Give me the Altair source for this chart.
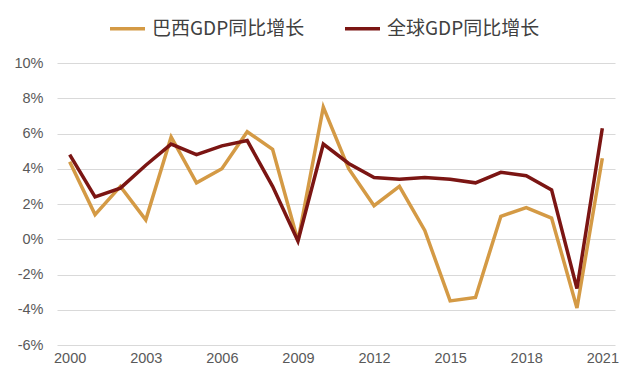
import altair as alt
import pandas as pd

years = list(range(2000, 2022))
brazil = [4.4, 1.4, 3.0, 1.1, 5.8, 3.2, 4.0, 6.1, 5.1, -0.1, 7.5, 4.0, 1.9, 3.0, 0.5, -3.5, -3.3, 1.3, 1.8, 1.2, -3.9, 4.6]
world = [4.8, 2.4, 2.9, 4.2, 5.4, 4.8, 5.3, 5.6, 3.0, -0.1, 5.4, 4.3, 3.5, 3.4, 3.5, 3.4, 3.2, 3.8, 3.6, 2.8, -2.8, 6.3]
series_names = ["巴西GDP同比增长", "全球GDP同比增长"]
series_colors = ["#D49A45", "#7B1513"]
x_ticks = [2000, 2003, 2006, 2009, 2012, 2015, 2018, 2021]

rows = []
for y, b, w in zip(years, brazil, world):
    rows.append({"year": y, "series": series_names[0], "value": b})
    rows.append({"year": y, "series": series_names[1], "value": w})
df = pd.DataFrame(rows)

chart = alt.Chart(df).mark_line(strokeWidth=3.5).encode(
    x=alt.X("year:O", title=None,
            axis=alt.Axis(values=x_ticks, labelAngle=0, ticks=False, domain=False, grid=False,
                          labelFontSize=14.5, labelColor="#595959", labelPadding=6,
                          labelFont="Liberation Sans")),
    y=alt.Y("value:Q", title=None,
            scale=alt.Scale(domain=[-6, 10], nice=False),
            axis=alt.Axis(values=[-6, -4, -2, 0, 2, 4, 6, 8, 10], labelExpr="datum.value + '%'",
                          ticks=False, domain=False, gridColor="#D9D9D9", gridWidth=1,
                          labelFontSize=14.5, labelColor="#595959", labelPadding=14,
                          labelFont="Liberation Sans")),
    color=alt.Color("series:N", sort=series_names,
                    scale=alt.Scale(domain=series_names, range=series_colors),
                    legend=alt.Legend(title=None, orient="none", direction="horizontal",
                                      legendX=51, legendY=-54,
                                      symbolType="stroke", symbolSize=1225, symbolStrokeWidth=3.5,
                                      labelFontSize=19, labelColor="#404040",
                                      labelFont="Noto Sans CJK SC", labelOffset=5,
                                      columnPadding=33, labelLimit=300)),
    order=alt.Order("year:O"),
).properties(
    width=558, height=282,
    background="white",
    autosize=alt.AutoSizeParams(type="none"),
    padding={"left": 49, "top": 55, "right": 10, "bottom": 30},
).configure_view(stroke=None)

chart.save("out.html", embed_options={"renderer": "svg", "actions": False})
